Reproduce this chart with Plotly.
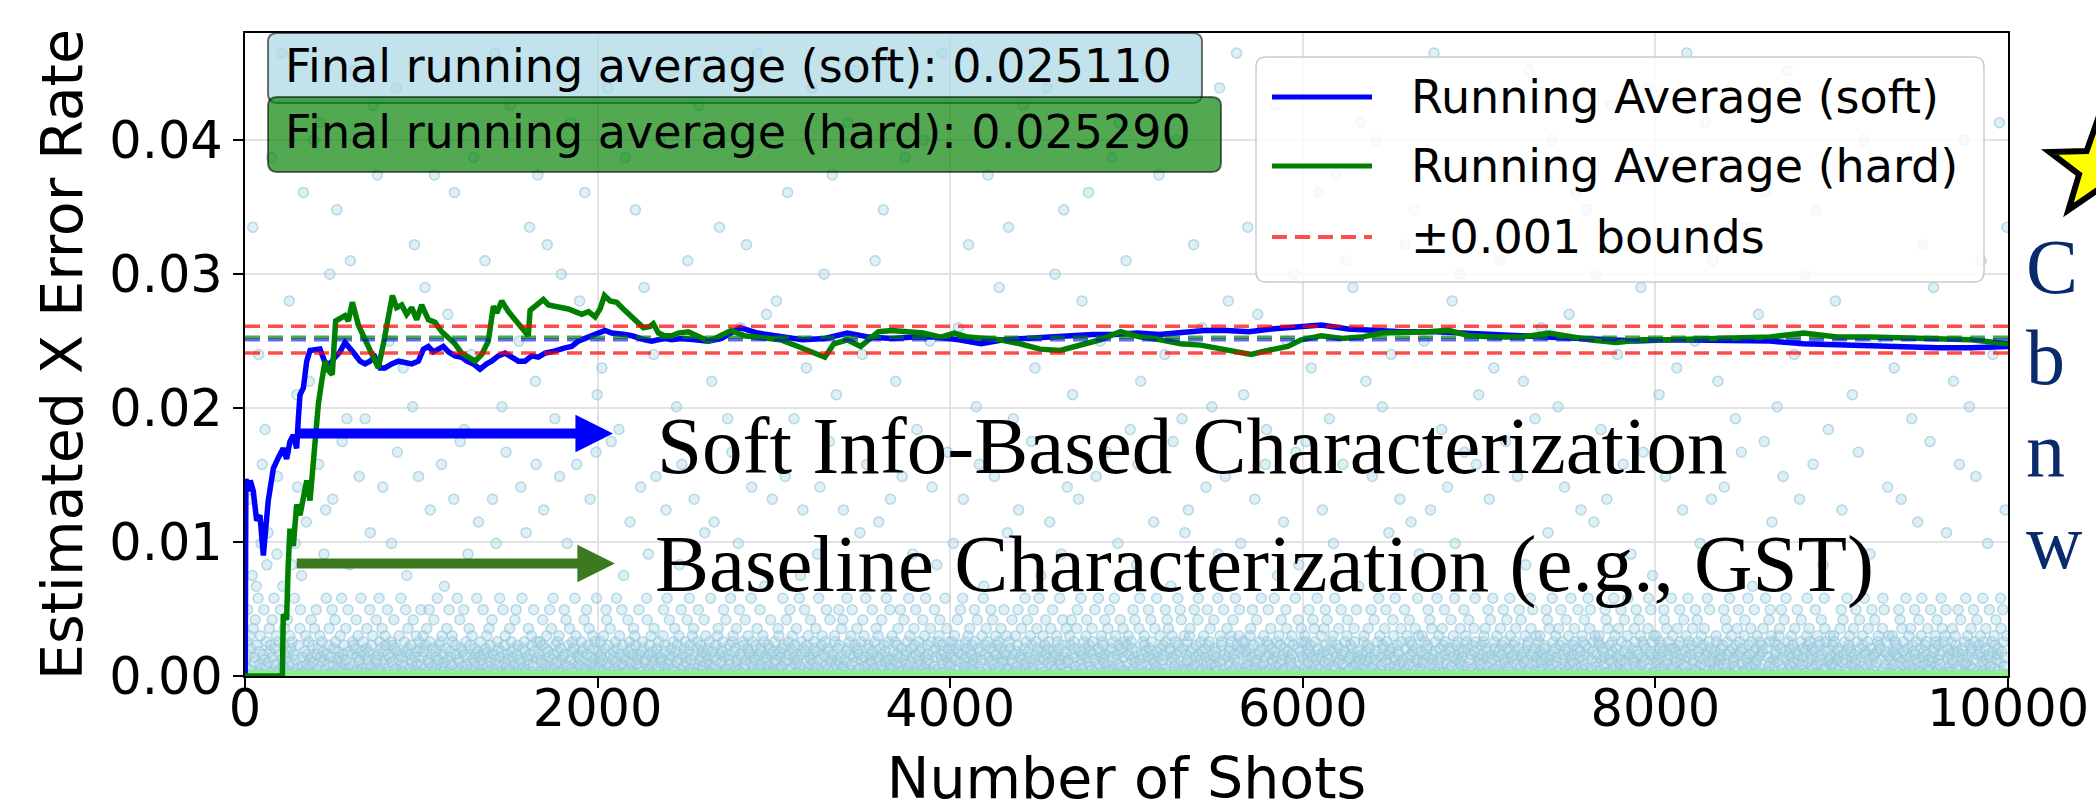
import math
import plotly.graph_objects as go

# ---------------------------------------------------------------- data
final_soft_avg = 0.025110
final_hard_avg = 0.025290
tolerance = 0.001

x_ticks = [0, 2000, 4000, 6000, 8000, 10000]
y_ticks = [0.00, 0.01, 0.02, 0.03, 0.04]

# running average of the soft-information estimate: (shot, rate)
soft_running_avg = [
    (1, 0.0000), (5, 0.0147), (9, 0.0145), (19, 0.0138), (30, 0.0146), (47, 0.0138),
    (66, 0.0116), (85, 0.0120), (104, 0.0090), (132, 0.0131), (161, 0.0155), (189, 0.0163),
    (217, 0.0170), (236, 0.0162), (255, 0.0175), (274, 0.0180), (293, 0.0170), (303, 0.0193),
    (312, 0.0210), (331, 0.0215), (350, 0.0235), (369, 0.0243), (397, 0.0243), (425, 0.0244),
    (454, 0.0234), (482, 0.0233), (511, 0.0238), (539, 0.0242), (567, 0.0249), (596, 0.0245),
    (624, 0.0240), (652, 0.0235), (681, 0.0233), (709, 0.0235), (737, 0.0238), (766, 0.0230),
    (794, 0.0230), (832, 0.0233), (870, 0.0235), (908, 0.0234), (946, 0.0233), (983, 0.0235),
    (1012, 0.0244), (1040, 0.0246), (1068, 0.0242), (1097, 0.0244), (1125, 0.0246), (1154, 0.0242),
    (1191, 0.0239), (1229, 0.0238), (1258, 0.0235), (1295, 0.0233), (1333, 0.0229), (1371, 0.0233),
    (1399, 0.0235), (1437, 0.0239), (1475, 0.0241), (1513, 0.0238), (1551, 0.0235), (1588, 0.0235),
    (1626, 0.0239), (1664, 0.0238), (1702, 0.0241), (1740, 0.0242), (1778, 0.0244), (1815, 0.0245),
    (1853, 0.0246), (1891, 0.0250), (1929, 0.0252), (1967, 0.0254), (2004, 0.0256), (2042, 0.0258),
    (2080, 0.0256), (2118, 0.0256), (2156, 0.0255), (2194, 0.0254), (2231, 0.0252), (2269, 0.0251),
    (2307, 0.0250), (2345, 0.0251), (2383, 0.0252), (2420, 0.0251), (2477, 0.0252), (2553, 0.0251),
    (2628, 0.0250), (2704, 0.0252), (2757, 0.0256), (2808, 0.0260), (2909, 0.0256), (3036, 0.0253),
    (3162, 0.0251), (3289, 0.0252), (3416, 0.0256), (3542, 0.0253), (3669, 0.0252), (3795, 0.0253),
    (3922, 0.0253), (4049, 0.0251), (4175, 0.0248), (4302, 0.0251), (4428, 0.0252), (4555, 0.0253),
    (4681, 0.0253), (4808, 0.0255), (4935, 0.0255), (5061, 0.0256), (5188, 0.0255), (5315, 0.0257),
    (5441, 0.0258), (5568, 0.0258), (5694, 0.0257), (5821, 0.0259), (5948, 0.0260), (6074, 0.0261),
    (6105, 0.0262), (6257, 0.0259), (6408, 0.0258), (6561, 0.0257), (6751, 0.0257), (6941, 0.0256),
    (7131, 0.0254), (7320, 0.0253), (7510, 0.0252), (7700, 0.0251), (7890, 0.0250), (8080, 0.0251),
    (8270, 0.0251), (8460, 0.0251), (8650, 0.0250), (8840, 0.0248), (9030, 0.0247), (9219, 0.0246),
    (9409, 0.0245), (9599, 0.0245), (9789, 0.0245), (10000, 0.0246),
]

# running average of the hard-decision estimate: (shot, rate)
hard_running_avg = [
    (1, 0.0), (100, 0.0), (212, 0.0), (217, 0.0046), (236, 0.0042), (245, 0.0082),
    (255, 0.0110), (274, 0.0097), (293, 0.0128), (312, 0.0120), (331, 0.0136), (350, 0.0146),
    (369, 0.0131), (388, 0.0160), (401, 0.0185), (416, 0.0203), (435, 0.0220), (454, 0.0235),
    (473, 0.0228), (495, 0.0225), (514, 0.0265), (539, 0.0267), (567, 0.0269), (586, 0.0265),
    (609, 0.0279), (643, 0.0262), (681, 0.0251), (719, 0.0240), (756, 0.0230), (785, 0.0248),
    (813, 0.0269), (836, 0.0284), (860, 0.0275), (889, 0.0277), (917, 0.0270), (946, 0.0275),
    (974, 0.0266), (1002, 0.0277), (1040, 0.0266), (1078, 0.0264), (1116, 0.0257), (1154, 0.0253),
    (1191, 0.0248), (1229, 0.0241), (1267, 0.0238), (1305, 0.0235), (1343, 0.0240), (1380, 0.0250),
    (1409, 0.0276), (1428, 0.0271), (1456, 0.0280), (1494, 0.0272), (1532, 0.0266), (1570, 0.0260),
    (1607, 0.0254), (1617, 0.0273), (1645, 0.0276), (1692, 0.0281), (1721, 0.0277), (1759, 0.0276),
    (1796, 0.0275), (1834, 0.0274), (1872, 0.0272), (1910, 0.0270), (1948, 0.0272), (1986, 0.0268),
    (2014, 0.0274), (2039, 0.0284), (2071, 0.0280), (2108, 0.0279), (2146, 0.0274), (2184, 0.0269),
    (2222, 0.0264), (2260, 0.0260), (2298, 0.0261), (2316, 0.0263), (2345, 0.0256), (2383, 0.0254),
    (2420, 0.0254), (2458, 0.0256), (2515, 0.0257), (2572, 0.0254), (2628, 0.0250), (2666, 0.0252),
    (2704, 0.0255), (2757, 0.0258), (2833, 0.0254), (2934, 0.0253), (3036, 0.0251), (3137, 0.0246),
    (3238, 0.0241), (3289, 0.0238), (3340, 0.0248), (3416, 0.0251), (3492, 0.0246), (3593, 0.0257),
    (3669, 0.0258), (3745, 0.0257), (3846, 0.0256), (3947, 0.0253), (4023, 0.0256), (4099, 0.0253),
    (4226, 0.0251), (4282, 0.0251), (4396, 0.0248), (4510, 0.0244), (4624, 0.0243), (4738, 0.0247),
    (4851, 0.0251), (4966, 0.0257), (5080, 0.0253), (5193, 0.0251), (5307, 0.0248), (5421, 0.0247),
    (5535, 0.0244), (5649, 0.0242), (5706, 0.0240), (5801, 0.0243), (5915, 0.0246), (5991, 0.0251),
    (6105, 0.0254), (6219, 0.0252), (6333, 0.0253), (6447, 0.0256), (6561, 0.0256), (6713, 0.0257),
    (6827, 0.0258), (6941, 0.0254), (7092, 0.0253), (7244, 0.0253), (7396, 0.0256), (7510, 0.0253),
    (7624, 0.0251), (7776, 0.0249), (7928, 0.0251), (8080, 0.0251), (8270, 0.0252), (8460, 0.0253),
    (8650, 0.0253), (8840, 0.0256), (9030, 0.0253), (9219, 0.0253), (9409, 0.0252), (9599, 0.0251),
    (9789, 0.0251), (10000, 0.0248),
]

# per-shot soft estimates: one character per sampled shot (3000 samples over 10000 shots),
# each character indexing the rate table below
LEVELS = "0123456789abcdefghijklmnopqrstuvwxyzABCDEFGHIJKLMNOPQRSTUVWXYZ"
LEVEL_RATES = [
    0.00000, 0.00005, 0.00012, 0.00020, 0.00030, 0.00042, 0.00055, 0.00070, 0.00086, 0.00103,
    0.00121, 0.00140, 0.00160, 0.00182, 0.00205, 0.00230,
    0.00255, 0.00300, 0.00355, 0.00420, 0.00495, 0.00580,
    0.00670, 0.00750, 0.00830, 0.00910, 0.00990, 0.01070,
    0.0115, 0.0124, 0.0132, 0.0141, 0.0149, 0.0158, 0.0167, 0.0175, 0.0184, 0.0192, 0.0201, 0.0210,
    0.0220, 0.0230, 0.0240, 0.0250, 0.0260, 0.0270, 0.0280, 0.0290, 0.0300, 0.0310,
    0.0322, 0.0335, 0.0348, 0.0361, 0.0374, 0.0387, 0.0400, 0.0413, 0.0426, 0.0439, 0.0452, 0.0465,
]
soft_shot_codes = [
    "3a7gkc0uh5e1nPi9bj2mf4lGd8hq6x2ckaA7go1r9idf3Tjb5l0e8hpw4gc6k1aZm7fi3yb5jd9Kh2eog8c4lqa0Dv6f2ik3nb7R"
    "1d5hs8c0gEa7jb3f9Ui24kc6ex0hVb9g2dpa5tl1c8fiM3b0ku7e4jg2Qa6db0h9lz5cf38iaB1kd6oN2c7gf4Ye0j5bh9wa3ld1"
    "6g0cB4ei8ad2kr7f1hW53b9jaSc6lg0e5iv2d8hfa4kc7Hb1gq9f3j0e6Xdy2ahc5l8b4F7g1kdn0ie3c6fa9Cj2Ob5h8d1wg4ek",
    "8b2hd6Lf0i4a9kgt1c7e3jS5db8l2a0f6gxh4c9m7e1iaJ3k5db8hg2uR0fc6l4a9jz1e7d3kAc5g8bp0i2f6Gh4aT9e7cl1dsb3"
    "5g3a8kc1Ne0h7d4ib9f2ju6c3Zaq5g8e1lb4dC0k2f9hy7c3a6iW5gd0be8j1k4cf7Ha2v9l6e3gd0rb5ai8Pc2hf47kd1ExgbS0"
    "c4g9a2jft61e8hOd5bk37ia0lc6Bf29gd4hw3eMa5b1kc8j0q7f2iaV6dg3e4l9hx0cb8Ka7g1de5jR36kc0fi2u9b8h4eag7ylD",
    "2d6b9gcFa0h5e3kj8Xf17icz4a0db6g9l2e5Ah3c1k8fn7bTa40jd6gs9e2c5i3hQf8ba1k7cv4dg0eL9a2lj6pcf53h8bdGi1aw"
    "e6c0g4Ub9a2hk7fdt3l58ajc1eY6bg4i0dC9f2hoa5kx3c7e1gb9jN2dlf6a0h4iu8c3eg6kWa1fb5d72jr9hc0ea4g8l3Ed6bs1"
    "7fa2hi4Pc0e9dgk3b6j51Bca8fl0ygh4d2e7i9aq5kcI3b0gf68jaO1ehd2c9lv4gb7a3f0iZ5c6kde82h1gmb9Ja4f7e3jc0u5d",
    "4g8aKc1ih6d0b7el3f9w2jaR5gck0e6h1dBbf8i49a3l7ncg2te5kd0Ff4h6b8ja1Xc9ge3i7dp2lav05fh4cMbg8k1e6dzj9a2S"
    "0c5hg8Da3ekf9b2i6jt17a4dlVe0gc5h8k1b3Yf92ide6cr0gaGj4h7bl1x58fe3ac9kd06gN2ib4hsa1e7jc5Qf0d9lb3ga6ku8"
    "3h6ad1gE9cfi0b4k7ew25jaTc8dg6l1h9e3bp0if4kcA7a2gd58e0jU6hbl39fca1Hig4v2d7k5ebo0g6hjc3aZf8d4l1biy9eg7",
    "8c3gbq0h5ae1jdI6fk9c2lu4a7gbe0hO3id6cf8a5kg9Cbj1ex7d4ah0lm2cfi6gS3b9ek1aj8dw5hc40fgL7eib2a9kd3c6hr5P"
    "6ge2aj9Bc40hd7fkt1b53icaW8el6g9j2db4h0zf7ka5Fcgi1e8l3bn6d0ha4fjcX2eg9s1ia7kdb5Mc6h0g3ela8p2jfQb9di4v"
    "9a4hf0jcD2ge7b5ik3u18dlaK6cg0e3hj9bRf2d75igc1ak4w60el8dHbh3gfa9jc2y7i54kd0eTbg6l1h3acq8fVj7e2dib5g0N",
    "2f8hc4A1gaek6bj9do3x5ilaE7c0g2hf4dY8bk1e6jga3cs9i07ld5bS2he48afc1Gkg6j3i0edm9hbz4a7gcU2lf51kdjB6e8hr"
    "5c9gat2hi0d6e3Ok8bf17jlc4ag5Id0h2ebv9k6f3gia8C1cj4e7db5lp0Xh9fg2ak6cw31ibKd8e4hg5j0cal7Zf92hkdq6eg3D"
    "4g1dc7Pa8ehi5bk0f2u69jaJ3cgd7l1e8h5bx4Ag0kfc6i2ea93ldW7bgn1h8f4ja5cs0e6kiHd2bg9a7hc3fM1ly45ejo0d8igb",
    "1a6hgz3ce9kd0fF5bj8i4g7al2eRc60hbt3di9kf5jc8aB1eg27hqdl6Sbf09iea4kc3x82gdN1hj5ab6fc0eL7ig38k4dbm9a1V"
    "3c8gh2aEd5fi9e0bk6w17jcaU4dg3l0h5b8Cfe2i9kag1cr6d4Ge3jhb7la05fdc8u2ig91a4kOe6hb38jgcs0fd7Q2ie5al9hp4"
    "6d1ha9Hgc3e0fkb5jt8i2acZ7gd4l19h6eb3Ai0f4kgca8v2e51dj7Kbh0lq3fag6c9Mie8bd5ky2h0g7ej1aS4cf60idlgx3b9D",
    "5a8fc2Tgh0ie4dbk7u3j9cal1Fg6e2h0bd5Ni8fc3kag9z7je16dlh4b0Pcf2gia8w5ek37jcb1Ed9ho0afg6Y4lic8kd2eB5hb9"
    "1g4hd9Ia6cfe0bk3jr7i5acUl8gd2eh9b4Ci1f6k0ga3cv7ej52dhJb8la4f9cig0R6ek13bdt7hg5aj8fcQ2le0ik4a6dgs1hM9"
    "7c2ghf5Aa0ed8bk1ju4i3afcW9gd6l0h7ebG2ic58kag4x1jd96fhlSb3cp02ea9ig7kd45cj1hL8bgy9fa0e3Xil61dkcgn4hb7",
    "4h9ac0Dge6bf1dkj5w3i8agcO2el7h6e0bd9Fi4f1kgac5t8j37dhZbl0g2e3cfi9a6Hk50jgd4bq8he2fai7Vc1ld5gk9eu3bN6"
    "9d5hg1Ea7cae2bf8kv0j6igcT4ld3h2e9ab7Bf0i5kcgd1y8e43hjaP6bl9f0ci7gm2dk58eah4Jb1gc6fdi0z3lRe4b7jgk9hs1"
    "2a7gcd4Cf9hi1ek6bw3j0dlaY5gc8e7h3bf9Gi2d4kac6u1gj85eb0Md3hlf9ig2ca7ex61dkQ8bh4fg3ajc0o5lie6gd9Aa2hb8",
    "8f3hg7Kc0aed5bi2kt9j1cga6Wl4efh0d8bD3i7c9kag2y5je04bhfUl6dc17gia3p8ek25cbj0H9dgh2fea4Sil6k0d8gcv1hb3"
    "6a1hd8Fgc5ef3bk0j9ui2dgaX7lc4e8h5bi1Bf6d0kcag3s9j74ehlOb2d8f1gci6a5zk09bdL3ehg7j5fac8Tl2id3g0hkr6be4"
    "7c4gai9Ed2hf6bdk1x5j0eca3Ug8l49hb2Cf7ide6kag0w4jc12fdhNb9l5g8eia3q0ck74bgdG1h6fj1ace5V9lid3kg7bt2hP0",
]

# hard decisions of the error-free shots all sit on zero
hard_floor_shots = [0, 10000]
hard_floor_vals = [0.0, 0.0]

# ---------------------------------------------------------------- geometry (pixels)
W, H = 2096, 811
L, R, T, B = 245, 2008, 33, 676
X_RANGE = [0, 10000]
Y_RANGE = [0, 0.048]


def fx(px):
    return (px - L) / (R - L)


def fy(py):
    return (B - py) / (B - T)


def rounded_box(x0, y0, x1, y1, r):
    pts = [
        ("M", [(x0 + r, y0)]), ("L", [(x1 - r, y0)]), ("Q", [(x1, y0), (x1, y0 + r)]),
        ("L", [(x1, y1 - r)]), ("Q", [(x1, y1), (x1 - r, y1)]), ("L", [(x0 + r, y1)]),
        ("Q", [(x0, y1), (x0, y1 - r)]), ("L", [(x0, y0 + r)]), ("Q", [(x0, y0), (x0 + r, y0)]),
    ]
    out = []
    for cmd, ps in pts:
        out.append(cmd + " ".join(f"{fx(px):.5f},{fy(py):.5f}" for px, py in ps))
    return " ".join(out) + " Z"


def star_path(cx, cy, r_out, r_in):
    parts = []
    for k in range(10):
        a = math.radians(-90 + 36 * k)
        rad = r_out if k % 2 == 0 else r_in
        px, py = cx + rad * math.cos(a), cy + rad * math.sin(a)
        parts.append(("M" if k == 0 else "L") + f"{fx(px):.5f},{fy(py):.5f}")
    return " ".join(parts) + " Z"


# ---------------------------------------------------------------- decode per-shot values
codes = "".join(soft_shot_codes)
shot_step = X_RANGE[1] / len(codes)
soft_shot_x = [1 + i * shot_step for i in range(len(codes))]
soft_shot_y = [LEVEL_RATES[LEVELS.index(c)] for c in codes]

SANS = "DejaVu Sans"
SERIF = "Liberation Serif"
DASH = "15px,8px"

fig = go.Figure()

fig.add_trace(go.Scatter(
    x=soft_shot_x, y=soft_shot_y, mode="markers", name="Per-shot estimate (soft)",
    marker=dict(size=10, color="rgba(173,216,230,0.4)",
                line=dict(width=1.5, color="rgba(150,200,218,0.65)")),
    showlegend=False, hoverinfo="skip",
))
fig.add_trace(go.Scatter(
    x=hard_floor_shots, y=hard_floor_vals, mode="lines", name="Per-shot estimate (hard)",
    line=dict(color="#90ee90", width=11), showlegend=False, hoverinfo="skip",
))
fig.add_trace(go.Scatter(
    x=[p[0] for p in soft_running_avg], y=[p[1] for p in soft_running_avg],
    mode="lines", name="Running Average (soft)", line=dict(color="#0000ff", width=5.5),
    showlegend=False,
))
fig.add_trace(go.Scatter(
    x=[p[0] for p in hard_running_avg], y=[p[1] for p in hard_running_avg],
    mode="lines", name="Running Average (hard)", line=dict(color="#008000", width=5.5),
    showlegend=False,
))
for level in (final_soft_avg - tolerance, final_soft_avg + tolerance):
    fig.add_trace(go.Scatter(
        x=X_RANGE, y=[level, level], mode="lines", name="±0.001 bounds",
        line=dict(color="rgba(255,0,0,0.7)", width=3.5, dash=DASH), showlegend=False,
    ))
fig.add_trace(go.Scatter(
    x=X_RANGE, y=[final_soft_avg] * 2, mode="lines", showlegend=False,
    line=dict(color="rgba(0,0,255,0.6)", width=3.5, dash=DASH),
))
fig.add_trace(go.Scatter(
    x=X_RANGE, y=[final_hard_avg] * 2, mode="lines", showlegend=False,
    line=dict(color="rgba(0,128,0,0.7)", width=3.5, dash=DASH),
))

shapes = []
# summary boxes
shapes.append(dict(type="path", xref="paper", yref="paper", layer="above",
                   path=rounded_box(268, 33, 1202, 103, 9),
                   fillcolor="rgba(173,216,230,0.75)", line=dict(color="rgba(0,0,0,0.55)", width=2)))
shapes.append(dict(type="path", xref="paper", yref="paper", layer="above",
                   path=rounded_box(268, 97, 1221, 172, 9),
                   fillcolor="rgba(0,128,0,0.68)", line=dict(color="rgba(0,0,0,0.55)", width=2)))
# legend frame and keys
shapes.append(dict(type="path", xref="paper", yref="paper", layer="above",
                   path=rounded_box(1256, 57, 1984, 282, 10),
                   fillcolor="rgba(255,255,255,0.8)", line=dict(color="#cccccc", width=1.5)))
legend_rows = [
    ("Running Average (soft)", 97, dict(color="#0000ff", width=5)),
    ("Running Average (hard)", 166, dict(color="#008000", width=5)),
    ("±0.001 bounds", 237, dict(color="rgba(255,0,0,0.7)", width=4, dash=DASH)),
]
for _, ry, ln in legend_rows:
    shapes.append(dict(type="line", xref="paper", yref="paper", layer="above",
                       x0=fx(1272), x1=fx(1372), y0=fy(ry), y1=fy(ry), line=ln))
# star marker in the right margin
shapes.append(dict(type="path", xref="paper", yref="paper", layer="above",
                   path=star_path(2099, 168, 52, 21),
                   fillcolor="#ffff00", line=dict(color="#000000", width=6)))

annotations = []
annotations.append(dict(xref="paper", yref="paper", x=fx(283), y=fy(66), xanchor="left", yanchor="middle",
                        text=f"Final running average (soft): {final_soft_avg:.6f}", showarrow=False,
                        font=dict(family=SANS, size=46, color="black")))
annotations.append(dict(xref="paper", yref="paper", x=fx(283), y=fy(132), xanchor="left", yanchor="middle",
                        text=f"Final running average (hard): {final_hard_avg:.6f}", showarrow=False,
                        font=dict(family=SANS, size=46, color="black")))
for label, ry, _ in legend_rows:
    annotations.append(dict(xref="paper", yref="paper", x=fx(1409), y=fy(ry), xanchor="left",
                            yanchor="middle", text=label, showarrow=False,
                            font=dict(family=SANS, size=46, color="black")))

# method labels with arrows
annotations.append(dict(xref="x", yref="y", axref="x", ayref="y", x=2087, y=0.0181, ax=300, ay=0.0181,
                        text="", showarrow=True, arrowhead=2, arrowsize=0.75, arrowwidth=10,
                        arrowcolor="#0000ff"))
annotations.append(dict(xref="x", yref="y", axref="x", ayref="y", x=2098, y=0.0084, ax=285, ay=0.0084,
                        text="", showarrow=True, arrowhead=2, arrowsize=0.75, arrowwidth=10,
                        arrowcolor="#3b7a1f"))
annotations.append(dict(xref="paper", yref="paper", x=fx(655), y=fy(446), xanchor="left", yanchor="middle",
                        text="Soft Info-Based Characterization", showarrow=False,
                        font=dict(family=SERIF, size=81, color="black")))
annotations.append(dict(xref="paper", yref="paper", x=fx(653), y=fy(564), xanchor="left", yanchor="middle",
                        text="Baseline Characterization (e.g., GST)", showarrow=False,
                        font=dict(family=SERIF, size=81, color="black")))

# start of the side caption
for letter, ry in (("C", 266), ("b", 357), ("n", 450), ("w", 541)):
    annotations.append(dict(xref="paper", yref="paper", x=fx(2024), y=fy(ry), xanchor="left",
                            yanchor="middle", text=letter, showarrow=False,
                            font=dict(family=SERIF, size=78, color="#0b2a6b")))

fig.update_layout(
    width=W, height=H,
    margin=dict(l=L, r=W - R, t=T, b=H - B, pad=0),
    paper_bgcolor="white", plot_bgcolor="white",
    showlegend=False,
    shapes=shapes, annotations=annotations,
    xaxis=dict(
        range=X_RANGE, tickvals=x_ticks, ticktext=[str(v) for v in x_ticks],
        ticks="outside", ticklen=10, tickwidth=2, tickcolor="black", ticklabelstandoff=-23,
        showline=True, linecolor="black", linewidth=2, mirror=True,
        showgrid=True, gridcolor="#e3e3e3", gridwidth=1.5, zeroline=False,
        tickfont=dict(family=SANS, size=51, color="black"),
        title=dict(text="Number of Shots", font=dict(family=SANS, size=57, color="black"), standoff=36),
        automargin=False,
    ),
    yaxis=dict(
        range=Y_RANGE, tickvals=y_ticks, ticktext=[f"{v:.2f}" for v in y_ticks],
        ticks="outside", ticklen=10, tickwidth=2, tickcolor="black",
        showline=True, linecolor="black", linewidth=2, mirror=True,
        showgrid=True, gridcolor="#e3e3e3", gridwidth=1.5, zeroline=False,
        tickfont=dict(family=SANS, size=51, color="black"),
        title=dict(text="Estimated X Error Rate", font=dict(family=SANS, size=57, color="black"), standoff=8),
        automargin=False,
    ),
)

fig.write_html("out.html")
